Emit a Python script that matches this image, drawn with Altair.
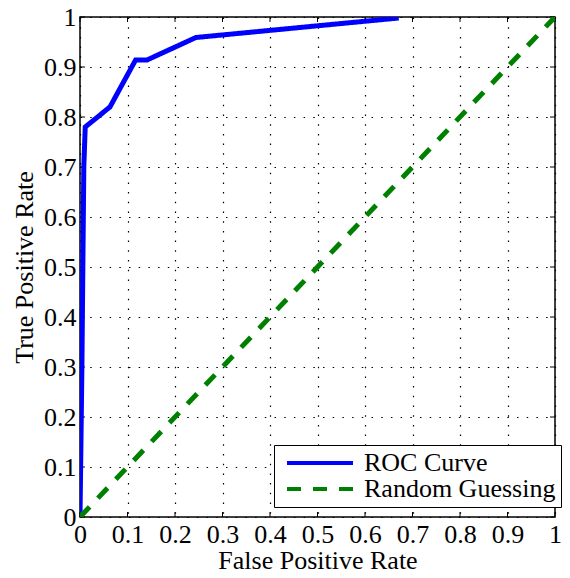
import altair as alt
import pandas as pd

# ---- data ----
roc_fpr = [0.0, 0.004, 0.008, 0.011, 0.063, 0.117, 0.141, 0.244, 0.671]
roc_tpr = [0.0, 0.30, 0.70, 0.78, 0.82, 0.914, 0.914, 0.959, 0.998]
rand_fpr = [0.0, 1.0]
rand_tpr = [0.0, 1.0]
series_names = ["ROC Curve", "Random Guessing"]
tick_values = [0, 0.1, 0.2, 0.3, 0.4, 0.5, 0.6, 0.7, 0.8, 0.9, 1]

W, H = 475, 500
FONT = "Liberation Serif"

rows = []
for i, (x, y) in enumerate(zip(roc_fpr, roc_tpr)):
    rows.append({"fpr": x, "tpr": y, "series": series_names[0], "order": i})
for i, (x, y) in enumerate(zip(rand_fpr, rand_tpr)):
    rows.append({"fpr": x, "tpr": y, "series": series_names[1], "order": i})
df = pd.DataFrame(rows)
ticks_df = pd.DataFrame({"v": tick_values})

x_axis = alt.Axis(values=tick_values, format="~g", title="False Positive Rate",
                  grid=True, ticks=False, domain=False, labelPadding=4,
                  labelFlush=False, labelOverlap=False, titlePadding=0)
y_axis = alt.Axis(values=tick_values, format="~g", title="True Positive Rate",
                  grid=True, ticks=False, domain=False, labelPadding=4,
                  labelFlush=False, labelOverlap=False, titlePadding=6)
xs = alt.Scale(domain=[0, 1], nice=False, zero=False)
ys = alt.Scale(domain=[0, 1], nice=False, zero=False)

legend = alt.Legend(title=None, orient="none", legendX=194, legendY=428,
                    symbolType="stroke", symbolSize=4356, symbolStrokeWidth=4,
                    clipHeight=26, symbolOffset=6, labelOffset=9,
                    labelLimit=400, fillColor="white", strokeColor="black",
                    padding=5, rowPadding=0)

lines = alt.Chart(df).mark_line(strokeWidth=5, clip=True).encode(
    x=alt.X("fpr:Q", scale=xs, axis=x_axis),
    y=alt.Y("tpr:Q", scale=ys, axis=y_axis),
    color=alt.Color("series:N", scale=alt.Scale(domain=series_names, range=["#0000ff", "#008000"]),
                    legend=legend),
    strokeDash=alt.StrokeDash("series:N", scale=alt.Scale(domain=series_names, range=[[1, 0], [14, 12]]),
                              legend=legend),
    order="order:Q",
)

tick_len = 5
tx = alt.X("v:Q", scale=xs, axis=x_axis)
ty = alt.Y("v:Q", scale=ys, axis=y_axis)
bottom_ticks = alt.Chart(ticks_df).mark_rule(color="black", strokeWidth=1).encode(
    x=tx, y=alt.value(H), y2=alt.value(H - tick_len))
top_ticks = alt.Chart(ticks_df).mark_rule(color="black", strokeWidth=1).encode(
    x=tx, y=alt.value(0), y2=alt.value(tick_len))
left_ticks = alt.Chart(ticks_df).mark_rule(color="black", strokeWidth=1).encode(
    y=ty, x=alt.value(0), x2=alt.value(tick_len))
right_ticks = alt.Chart(ticks_df).mark_rule(color="black", strokeWidth=1).encode(
    y=ty, x=alt.value(W), x2=alt.value(W - tick_len))

chart = alt.layer(bottom_ticks, top_ticks, left_ticks, right_ticks, lines).properties(
    width=W, height=H,
    autosize=alt.AutoSizeParams(type="none"),
    padding={"left": 72, "top": 9, "right": 7, "bottom": 53},
    background="white",
).configure_view(
    stroke="black", strokeWidth=1.5
).configure_axis(
    labelFont=FONT, labelFontSize=26, labelColor="black",
    titleFont=FONT, titleFontSize=26, titleFontWeight="normal", titleColor="black",
    gridColor="black", gridDash=[1.5, 8.2], gridWidth=1.2, gridOpacity=1,
).configure_legend(
    labelFont=FONT, labelFontSize=26, labelColor="black",
)

chart.save("out.html", embed_options={"renderer": "svg", "actions": False})
